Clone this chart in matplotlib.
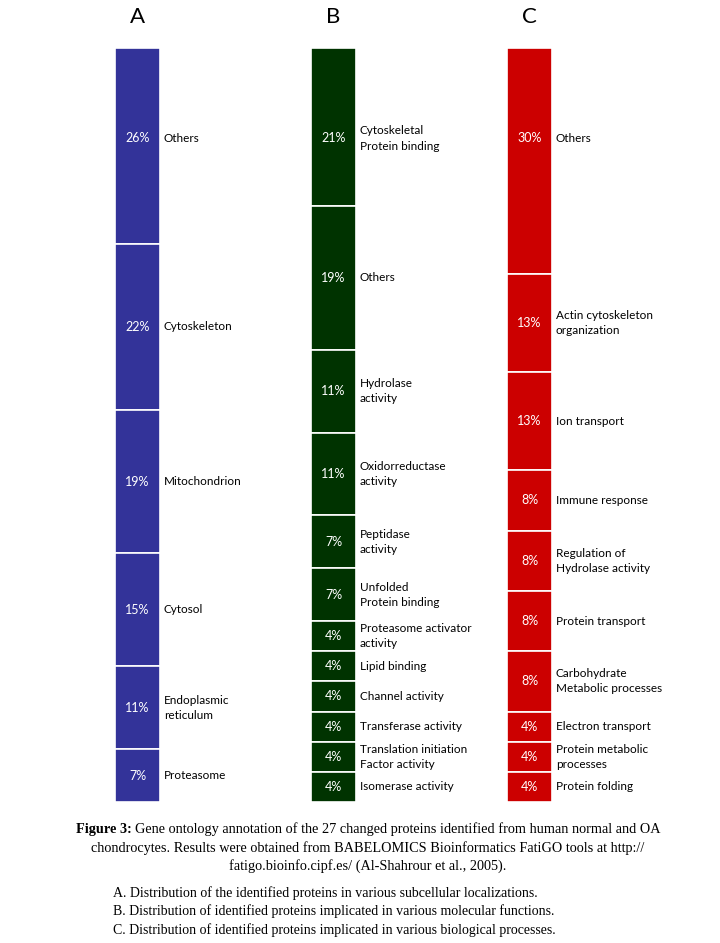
import matplotlib
matplotlib.use('Agg')
import matplotlib.pyplot as plt
import numpy as np

# panel A - subcellular localization
a_pct = [26, 22, 19, 15, 11, 7]
a_lab = ['Others', 'Cytoskeleton', 'Mitochondrion', 'Cytosol',
         'Endoplasmic\nreticulum', 'Proteasome']

# panel B - molecular function
b_pct = [21, 19, 11, 11, 7, 7, 4, 4, 4, 4, 4, 4]
b_lab = ['Cytoskeletal\nProtein binding', 'Others', 'Hydrolase\nactivity',
         'Oxidorreductase\nactivity', 'Peptidase\nactivity', 'Unfolded\nProtein binding',
         'Proteasome activator\nactivity', 'Lipid binding', 'Channel activity',
         'Transferase activity', 'Translation initiation\nFactor activity',
         'Isomerase activity']

# panel C - biological process
c_pct = [30, 13, 13, 8, 8, 8, 8, 4, 4, 4]
c_lab = ['Others', 'Actin cytoskeleton\norganization', 'Ion transport',
         'Immune response', 'Regulation of\nHydrolase activity', 'Protein transport',
         'Carbohydrate\nMetabolic processes', 'Electron transport',
         'Protein metabolic\nprocesses', 'Protein folding']

panels = ['A', 'B', 'C']
colors = ['#333399', '#003300', '#cc0000']

caption_bold = 'Figure 3:'
caption_rest = ('Gene ontology annotation of the 27 changed proteins identified from human normal and OA')
caption_lines = ['chondrocytes. Results were obtained from BABELOMICS Bioinformatics FatiGO tools at http://',
                 'fatigo.bioinfo.cipf.es/ (Al-Shahrour et al., 2005).']
legend_lines = ['A. Distribution of the identified proteins in various subcellular localizations.',
                'B. Distribution of identified proteins implicated in various molecular functions.',
                'C. Distribution of identified proteins implicated in various biological processes.']

W, H = 720, 943
fig = plt.figure(figsize=(W / 100, H / 100), dpi=100)
fig.patch.set_facecolor('white')

ax = fig.add_axes([0, 1 - 802 / H, 1, 754 / H])
ax.set_xlim(-137.5 / 196, (W - 137.5) / 196)
ax.set_ylim(100, 0)
ax.axis('off')

bw = 45 / 196
top_label_y = 12  # labels of the first (tallest) block sit near its top
lab_font = 'Lato'
for i, (pct, lab) in enumerate(zip([a_pct, b_pct, c_pct], [a_lab, b_lab, c_lab])):
    pct = np.array(pct, dtype=float)
    bottoms = np.concatenate([[0], np.cumsum(pct)[:-1]])
    ax.bar(np.full(len(pct), i), pct, bottom=bottoms, width=bw,
           color=colors[i], edgecolor='white', linewidth=1.2)
    for j, (b, p, t) in enumerate(zip(bottoms, pct, lab)):
        yc = top_label_y if j == 0 else b + p / 2
        ax.text(i, yc, '%d%%' % p, color='white', ha='center', va='center',
                fontsize=9, family=lab_font)
        ax.text(i + bw / 2 + 0.02, yc, t, color='black', ha='left', va='center',
                fontsize=8.5, family=lab_font, linespacing=1.45)
    fig.text((137.5 + 196 * i) / W, 1 - 17 / H, panels[i], ha='center', va='center',
             fontsize=16, family=lab_font)

# caption
serif = 'Liberation Serif'
cfs = 10.3
fig.canvas.draw()
r = fig.canvas.get_renderer()
tb = fig.text(0, 0, caption_bold, fontsize=cfs, family=serif, fontweight='bold')
tr = fig.text(0, 0, caption_rest, fontsize=cfs, family=serif)
wb = tb.get_window_extent(r).width
wr = tr.get_window_extent(r).width
x0 = 368 - (wb + wr + 3) / 2
y1 = 1 - 829 / H
tb.set_position((x0 / W, y1))
tb.set_va('center')
tr.set_position(((x0 + wb + 3) / W, y1))
tr.set_va('center')
for k, line in enumerate(caption_lines):
    fig.text(368 / W, 1 - (848 + 18.5 * k) / H, line, ha='center', va='center',
             fontsize=cfs, family=serif)
for k, line in enumerate(legend_lines):
    fig.text(113 / W, 1 - (893 + 18.5 * k) / H, line, ha='left', va='center',
             fontsize=10, family=serif)

fig.savefig('out.png', dpi=100, facecolor='white')
